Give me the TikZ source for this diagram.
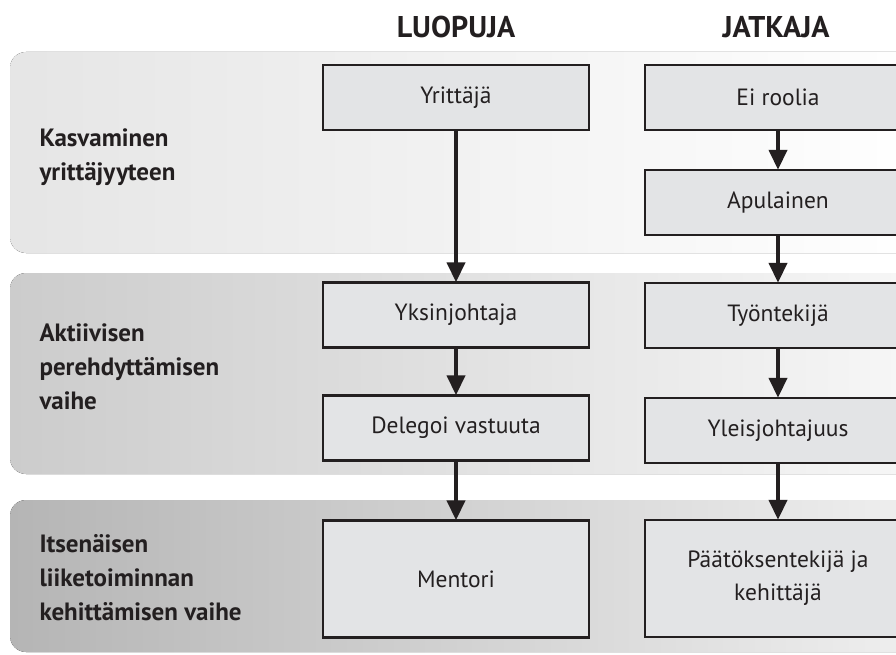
\documentclass[tikz,border=0pt]{standalone}
\usepackage{fontspec}
\setmainfont{PT Sans}
\usetikzlibrary{arrows.meta}
\definecolor{boxfill}{HTML}{E3E4E6}
\definecolor{ink}{HTML}{231F20}
\tikzset{
  box/.style={draw=ink, line width=2.4pt, fill=boxfill, minimum width=266pt, minimum height=65pt, inner sep=0pt, font=\fontsize{23.5}{33}\selectfont, text=ink, align=center},
  tallbox/.style={box, minimum height=117pt},
  flow/.style={draw=ink, line width=4pt, -{Triangle[width=18pt,length=20pt]}, shorten >=-1pt},
  phase/.style={anchor=west, align=left, font=\fontsize{25}{34}\bfseries\selectfont, text=ink},
  head/.style={font=\fontsize{30}{34}\bfseries\selectfont, text=ink}
}
\begin{document}
\begin{tikzpicture}[x=1pt,y=-1pt]
\useasboundingbox (0,0) rectangle (896,655);
\clip (0,0) rectangle (896,655);
\fill[white] (0,0) rectangle (896,655);
% bands
\fill[rounded corners=16pt, left color=black!10, middle color=black!6, right color=white] (10,52) rectangle (930,253);
\fill[rounded corners=16pt, left color=black!20, middle color=black!11, right color=black!3] (10,273) rectangle (930,474);
\fill[rounded corners=16pt, left color=black!29, middle color=black!17, right color=black!6] (10,500) rectangle (930,652);
% headers
\node[head] (hl) at (456,27) {LUOPUJA};
\node[head] (hr) at (776,27) {JATKAJA};
% phase labels
\node[phase] (p1) at (36,157) {Kasvaminen\\yrittäjyyteen};
\node[phase] (p2) at (36,367) {Aktiivisen\\perehdyttämisen\\vaihe};
\node[phase] (p3) at (36,578) {Itsenäisen\\liiketoiminnan\\kehittämisen vaihe};
% left column
\node[box] (l1) at (456,97.5) {Yrittäjä};
\node[box] (l2) at (456,315) {Yksinjohtaja};
\node[box] (l3) at (456,428) {Delegoi vastuuta};
\node[tallbox] (l4) at (456,579) {Mentori};
% right column
\node[box] (r1) at (778,97.5) {Ei roolia};
\node[box] (r2) at (778,202.5) {Apulainen};
\node[box] (r3) at (778,315.5) {Työntekijä};
\node[box] (r4) at (778,430.5) {Yleisjohtajuus};
\node[tallbox] (r5) at (778,578.5) {Päätöksentekijä ja\\kehittäjä};
% arrows
\draw[flow] (l1) -- (l2);
\draw[flow] (l2) -- (l3);
\draw[flow] (l3) -- (l4);
\draw[flow] (r1) -- (r2);
\draw[flow] (r2) -- (r3);
\draw[flow] (r3) -- (r4);
\draw[flow] (r4) -- (r5);
\end{tikzpicture}
\end{document}
